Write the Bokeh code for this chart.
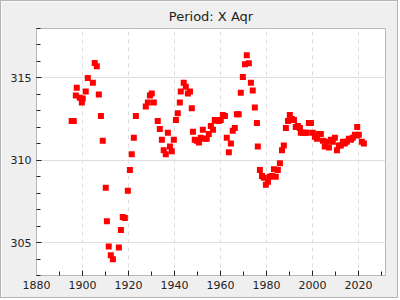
from bokeh.plotting import figure
from bokeh.models import SingleIntervalTicker, Range1d
from bokeh.embed import file_html
from bokeh.resources import INLINE

years = [1895.3, 1896.2, 1897.1, 1897.5, 1898.8, 1899.7, 1900.1, 1901.4, 1902.3, 1904.5,
         1905.3, 1906.2, 1907.1, 1908.0, 1908.8, 1910.1, 1910.6, 1911.4, 1912.3, 1913.2,
         1915.8, 1916.7, 1917.5, 1918.4, 1919.7, 1920.6, 1921.4, 1922.3, 1923.2, 1927.5,
         1928.4, 1929.3, 1930.1, 1931.0, 1932.7, 1933.6, 1934.5, 1935.3, 1936.2, 1937.1,
         1938.0, 1938.8, 1939.7, 1940.6, 1941.4, 1942.3, 1942.7, 1944.0, 1944.9, 1945.8,
         1946.7, 1947.5, 1948.0, 1948.8, 1949.7, 1950.6, 1951.4, 1952.3, 1953.2, 1954.0,
         1954.9, 1955.8, 1956.7, 1957.5, 1958.4, 1959.3, 1960.1, 1961.0, 1961.9, 1962.7,
         1963.6, 1964.5, 1965.3, 1966.2, 1967.1, 1967.9, 1968.8, 1969.7, 1970.6, 1971.4,
         1972.3, 1973.2, 1974.0, 1974.9, 1975.8, 1976.2, 1977.1, 1978.0, 1978.8, 1979.7,
         1980.6, 1981.4, 1982.3, 1983.2, 1984.0, 1984.9, 1985.8, 1986.7, 1987.5, 1988.4,
         1989.3, 1990.1, 1991.0, 1991.9, 1992.7, 1993.6, 1994.5, 1994.9, 1995.8, 1996.7,
         1997.5, 1998.4, 1999.3, 2000.1, 2001.0, 2001.9, 2002.7, 2003.6, 2004.5, 2005.3,
         2006.2, 2007.1, 2008.0, 2008.8, 2009.7, 2010.6, 2011.4, 2012.3, 2013.2, 2014.0,
         2014.9, 2015.8, 2016.7, 2017.5, 2018.4, 2019.3, 2019.4, 2020.1, 2021.4, 2022.3]

periods = [312.38, 312.38, 313.93, 314.40, 313.80, 313.50, 313.75, 314.17, 315.00, 314.70,
           315.90, 315.70, 313.99, 312.68, 311.19, 308.33, 306.30, 304.76, 304.23, 303.99,
           304.70, 305.77, 306.55, 306.49, 308.15, 309.40, 310.36, 311.37, 312.68, 313.27,
           313.51, 313.93, 314.05, 313.51, 312.38, 311.90, 311.25, 310.60, 310.36, 311.67,
           310.83, 310.54, 311.25, 312.44, 312.86, 313.51, 314.17, 314.70, 314.46, 314.05,
           314.17, 313.15, 311.73, 311.25, 311.19, 311.07, 311.37, 311.85, 311.31, 311.31,
           311.60, 312.08, 311.85, 312.44, 312.40, 312.38, 312.44, 312.74, 312.68, 311.37,
           310.48, 311.01, 311.79, 311.96, 312.80, 312.80, 314.10, 315.06, 315.83, 316.37,
           315.89, 314.70, 314.23, 313.21, 312.26, 310.83, 309.40, 309.05, 308.93, 308.51,
           308.69, 308.99, 309.05, 309.46, 308.99, 309.40, 309.82, 310.60, 310.89, 311.96,
           312.38, 312.74, 312.50, 312.44, 312.02, 312.08, 311.96, 311.67, 311.67, 311.67,
           311.67, 312.26, 312.26, 311.67, 311.43, 311.31, 311.60, 311.60, 311.19, 310.83,
           311.13, 310.77, 311.25, 311.13, 311.37, 310.60, 310.89, 310.89, 311.13, 311.01,
           311.13, 311.31, 311.25, 311.37, 311.55, 311.50, 312.02, 311.55, 311.13, 311.01]

p = figure(width=398, height=298, output_backend="svg", toolbar_location=None,
           title="Period: X Aqr",
           x_range=Range1d(1880, 2031.7), y_range=Range1d(303, 318),
           min_border_left=35, min_border_right=14, min_border_top=22, min_border_bottom=24)
p.styles = {"border": "1px solid #b4b4b4"}

p.scatter(years, periods, marker="square", size=6, fill_color="#ff0000", line_color=None)

p.border_fill_color = "#efefef"
p.background_fill_color = "white"
p.outline_line_color = "#b8b8b8"

p.title.align = "center"
p.title.text_font = "DejaVu Sans"
p.title.text_font_size = "13px"
p.title.text_font_style = "normal"
p.title.text_color = "#222222"

p.xaxis.ticker = SingleIntervalTicker(interval=20, num_minor_ticks=2)
p.yaxis.ticker = SingleIntervalTicker(interval=5, num_minor_ticks=5)

for ax in (p.xaxis, p.yaxis):
    ax.axis_line_color = "#b8b8b8"
    ax.major_tick_in = 5
    ax.major_tick_out = 0
    ax.minor_tick_in = 4
    ax.minor_tick_out = 0
    ax.major_tick_line_color = "#222222"
    ax.minor_tick_line_color = "#222222"
    ax.major_label_text_font = "DejaVu Sans"
    ax.major_label_text_font_size = "11px"
    ax.major_label_text_color = "#222222"

p.xgrid.grid_line_color = "#dddddd"
p.xgrid.grid_line_dash = "4 4"
p.ygrid.grid_line_color = "#dddddd"
p.ygrid.grid_line_dash = "solid"

open("out.html", "w").write(file_html(p, INLINE))
